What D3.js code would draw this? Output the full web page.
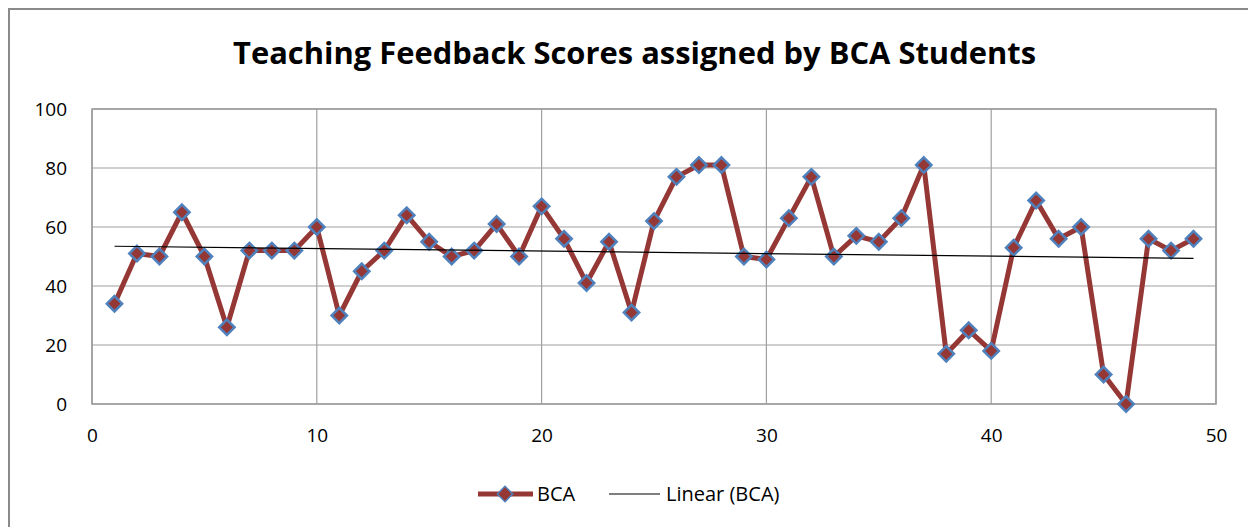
<!DOCTYPE html>
<html>
<head>
<meta charset="utf-8">
<script src="https://cdn.jsdelivr.net/npm/d3@7"></script>
<style>
  body { margin: 0; background: #fff; }
  text { font-family: "Open Sans", sans-serif; fill: #000; }
</style>
</head>
<body>
<div id="chart"></div>
<script>
// data
var students = d3.range(1, 50)
var scores = [34, 51, 50, 65, 50, 26, 52, 52, 52, 60,
              30, 45, 52, 64, 55, 50, 52, 61, 50, 67,
              56, 41, 55, 31, 62, 77, 81, 81, 50, 49,
              63, 77, 50, 57, 55, 63, 81, 17, 25, 18,
              53, 69, 56, 60, 10, 0, 56, 52, 56]
var xTicks = [0, 10, 20, 30, 40, 50]
var yTicks = [0, 20, 40, 60, 80, 100]
var seriesName = "BCA"
var trendName = "Linear (BCA)"
var title = "Teaching Feedback Scores assigned by BCA Students"

var W = 1248, H = 527
var margin = {top: 109, right: 32, bottom: 123, left: 92},
    width = W - margin.left - margin.right,
    height = H - margin.top - margin.bottom

var svg = d3.select("#chart").append("svg")
    .attr("width", W)
    .attr("height", H)

// chart area frame
svg.append("rect")
    .attr("x", 9).attr("y", 9)
    .attr("width", W + 20).attr("height", H + 20)
    .style("fill", "none")
    .style("stroke", "#8a8a8a")
    .style("stroke-width", 2)

svg.append("text").text(title)
    .attr("x", 233).attr("y", 64)
    .attr("textLength", 803)
    .attr("lengthAdjust", "spacingAndGlyphs")
    .style("font-size", "30px")
    .style("font-weight", "bold")

var g = svg.append("g")
    .attr("transform", "translate(" + margin.left + "," + margin.top + ")")

var x = d3.scaleLinear().domain([0, 50]).range([0, width])
var y = d3.scaleLinear().domain([0, 100]).range([height, 0])

// gridlines
g.append("g").selectAll("line")
    .data(yTicks)
  .enter().append("line")
    .attr("x1", 0).attr("x2", width)
    .attr("y1", function(d) { return y(d) })
    .attr("y2", function(d) { return y(d) })
    .style("stroke", "#a0a0a0").style("stroke-width", 1.2)

g.append("g").selectAll("line")
    .data(xTicks)
  .enter().append("line")
    .attr("x1", function(d) { return x(d) })
    .attr("x2", function(d) { return x(d) })
    .attr("y1", 0).attr("y2", height)
    .style("stroke", "#a0a0a0").style("stroke-width", 1.2)

g.append("rect")
    .attr("width", width).attr("height", height)
    .style("fill", "none").style("stroke", "#9a9a9a").style("stroke-width", 1.5)

// axes labels
var yAxis = g.append("g")
    .call(d3.axisLeft(y).tickValues(yTicks).tickSize(0).tickPadding(25))
yAxis.select(".domain").remove()
yAxis.selectAll("text").style("font-size", "19px").style("font-family", "Open Sans")

var xAxis = g.append("g")
    .attr("transform", "translate(0," + height + ")")
    .call(d3.axisBottom(x).tickValues(xTicks).tickSize(0).tickPadding(25))
xAxis.select(".domain").remove()
xAxis.selectAll("text").style("font-size", "19px").style("font-family", "Open Sans")

// least squares trend of the series
var mx = d3.mean(students), my = d3.mean(scores)
var slope = d3.sum(students, function(d, i) { return (d - mx) * (scores[i] - my) }) /
            d3.sum(students, function(d) { return (d - mx) * (d - mx) })
var icept = my - slope * mx

var line = d3.line()
    .x(function(d, i) { return x(students[i]) })
    .y(function(d) { return y(d) })

g.append("path")
    .datum(scores)
    .attr("d", line)
    .style("fill", "none")
    .style("stroke", "#953735")
    .style("stroke-width", 5)
    .style("stroke-linejoin", "round")

var diamond = d3.symbol().type(d3.symbolDiamond2).size(150)

g.append("g").selectAll("path")
    .data(scores)
  .enter().append("path")
    .attr("d", diamond)
    .attr("transform", function(d, i) { return "translate(" + x(students[i]) + "," + y(d) + ")" })
    .style("fill", "#953735")
    .style("stroke", "#4f81bd")
    .style("stroke-width", 2.5)

var x0 = students[0], x1 = students[students.length - 1]
g.append("line")
    .attr("x1", x(x0)).attr("y1", y(icept + slope * x0))
    .attr("x2", x(x1)).attr("y2", y(icept + slope * x1))
    .style("stroke", "#000").style("stroke-width", 1.2)

// legend
var leg = svg.append("g").attr("transform", "translate(0,494)")
leg.append("line").attr("x1", 478).attr("x2", 533)
    .style("stroke", "#953735").style("stroke-width", 5)
leg.append("path").attr("d", diamond).attr("transform", "translate(505,0)")
    .style("fill", "#953735").style("stroke", "#4f81bd").style("stroke-width", 1.5)
leg.append("text").text(seriesName).attr("x", 537).attr("dy", "0.35em").style("font-size", "20px")
leg.append("line").attr("x1", 609).attr("x2", 660)
    .style("stroke", "#000").style("stroke-width", 1.2)
leg.append("text").text(trendName).attr("x", 666).attr("dy", "0.35em").style("font-size", "20px")
</script>
</body>
</html>
